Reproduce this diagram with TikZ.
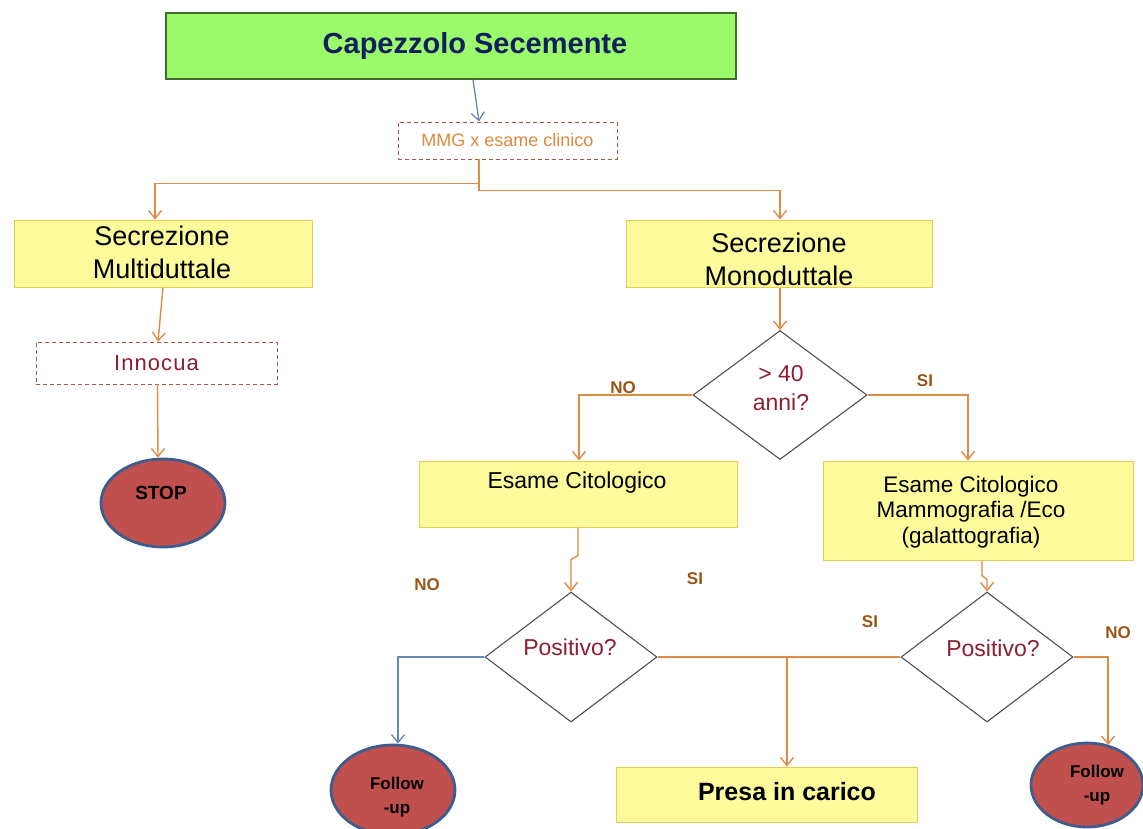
\documentclass[tikz,border=0pt]{standalone}
\usepackage{fontspec}
\setmainfont{Liberation Sans}
\usetikzlibrary{shapes.geometric,arrows.meta,calc}

\definecolor{boxyellow}{HTML}{FDFA9C}
\definecolor{boxyellowline}{HTML}{EBCB55}
\definecolor{titlegreen}{HTML}{9CF96A}
\definecolor{titleline}{HTML}{3F6D2B}
\definecolor{titletext}{HTML}{10205E}
\definecolor{flow}{HTML}{DF8B45}
\definecolor{flowblue}{HTML}{6688B5}
\definecolor{dashline}{HTML}{A8574F}
\definecolor{mmgtext}{HTML}{E0893E}
\definecolor{question}{HTML}{8E1E32}
\definecolor{endfill}{HTML}{C0504D}
\definecolor{endline}{HTML}{3C5D8E}
\definecolor{answer}{HTML}{995515}
\definecolor{diamondline}{HTML}{505050}

\tikzset{
  titlebox/.style={draw=titleline, fill=titlegreen, line width=1.2pt, inner sep=0pt,
    text=titletext, font=\fontsize{29}{34}\selectfont\bfseries},
  ybox/.style={draw=boxyellowline, fill=boxyellow, line width=1pt, inner sep=0pt},
  dbox/.style={draw=dashline, dash pattern=on 4pt off 3pt, line width=0.9pt, fill=white, inner sep=0pt},
  decision/.style={diamond, draw=diamondline, line width=1.1pt, fill=white, inner sep=0pt},
  endpoint/.style={ellipse, fill=endfill, draw=endline, line width=2.8pt, inner sep=0pt},
  flowarrow/.style={draw=flow, line width=1.4pt, -{Straight Barb[length=8pt,width=13pt]}},
  blueflow/.style={draw=flowblue, line width=1.3pt, -{Straight Barb[length=8pt,width=13pt]}},
  flowline/.style={draw=flow, line width=1.4pt},
  boxtext/.style={align=center, text=black, font=\fontsize{27}{33}\selectfont},
  smalltext/.style={align=center, text=black, font=\fontsize{22.5}{25.5}\selectfont},
  qtext/.style={align=center, text=question, font=\fontsize{23}{29}\selectfont},
  endtext/.style={align=center, text=black, font=\fontsize{17}{24}\selectfont\bfseries},
  answerlabel/.style={text=answer, font=\fontsize{17}{20}\selectfont\bfseries},
}

\begin{document}
\begin{tikzpicture}[x=1pt, y=-1pt]
\useasboundingbox (0,0) rectangle (1143,828);

% title
\node[titlebox, minimum width=570pt, minimum height=66pt] (title) at (451,46)
  {\hspace*{48pt}Capezzolo Secemente};

% clinical examination
\node[dbox, minimum width=219pt, minimum height=37pt, text=mmgtext,
  font=\fontsize{18}{22}\selectfont] (mmg) at (507.5,140.5) {MMG x esame clinico};

% left branch
\node[ybox, minimum width=298pt, minimum height=67pt] (multi) at (163,253.5) {};
\node[boxtext] (multitext) at (162,252) {Secrezione\\Multiduttale};
\node[dbox, minimum width=241pt, minimum height=42pt, text=question,
  font=\fontsize{22}{26}\selectfont\addfontfeature{LetterSpace=5}] (innocua) at (156.5,363) {Innocua};
\node[endpoint, minimum width=124pt, minimum height=88pt] (stop) at (163,503) {};
\node[endtext, font=\fontsize{19}{24}\selectfont\bfseries] (stoptext) at (161,493) {STOP};

% right branch
\node[ybox, minimum width=306pt, minimum height=67pt] (mono) at (779,253.5) {};
\node[boxtext] (monotext) at (779,259) {Secrezione\\Monoduttale};
\node[decision, minimum width=174pt, minimum height=129pt] (age) at (780,395) {};
\node[qtext] (agetext) at (781,388) {> 40\\anni?};

\node[ybox, minimum width=318pt, minimum height=66pt] (cito) at (578,494) {};
\node[smalltext, font=\fontsize{23}{27}\selectfont] (citotext) at (577,483) {Esame Citologico};
\node[ybox, minimum width=310pt, minimum height=99pt] (mammo) at (978,510.5) {};
\node[smalltext] (mammotext) at (971,512)
  {Esame Citologico\\Mammografia /Eco\\(galattografia)};

\node[decision, minimum width=172pt, minimum height=130pt] (posA) at (571,657) {};
\node[qtext] (posAtext) at (570,647) {Positivo?};
\node[decision, minimum width=172pt, minimum height=130pt] (posB) at (987,657) {};
\node[qtext] (posBtext) at (993,648) {Positivo?};

\node[endpoint, minimum width=124pt, minimum height=90pt] (followA) at (393,790) {};
\node[endtext] (followAtext) at (397,797) {Follow\\-up};
\node[endpoint, minimum width=112pt, minimum height=84pt] (followB) at (1087,785) {};
\node[endtext] (followBtext) at (1097,785) {Follow\\-up};

\node[ybox, minimum width=301pt, minimum height=55pt] (presa) at (766.5,794.5) {};
\node[text=black, font=\fontsize{25}{30}\selectfont\bfseries] (presatext) at (787,792) {Presa in carico};

% answer labels
\node[answerlabel] (ageNo) at (623,388) {NO};
\node[answerlabel] (ageSi) at (925,381) {SI};
\node[answerlabel] (posANo) at (427,585) {NO};
\node[answerlabel] (posASi) at (695,579) {SI};
\node[answerlabel] (posBSi) at (870,622) {SI};
\node[answerlabel] (posBNo) at (1118,633) {NO};

% connectors
\draw[blueflow] ([xshift=22pt]title.south) -- ([xshift=-28.5pt]mmg.north);
\draw[flowarrow] ([xshift=-28.5pt]mmg.south) -- ++(0,24) -| ([xshift=-8pt]multi.north);
\draw[flowarrow] ([xshift=-28.5pt]mmg.south) -- ++(0,31) -| ([xshift=1pt]mono.north);
\draw[flowarrow] (multi.south) -- ([xshift=1.5pt]innocua.north);
\draw[flowarrow] ([xshift=1pt]innocua.south) -- ([xshift=-5pt]stop.north);
\draw[flowarrow] (mono.south -| age.north) -- (age.north);
\draw[flowarrow] (age.west) -| ([xshift=1pt]cito.north);
\draw[flowarrow] (age.east) -| ([xshift=-10pt]mammo.north);
\draw[flowarrow] (cito.south) -- ++(0,28) -- ++(-7,4) -- (posA.north);
\draw[flowarrow] ([xshift=4pt]mammo.south) -- ++(0,15) -- ++(5,4) -- (posB.north);
\draw[blueflow] (posA.west) -| ([xshift=5pt]followA.north);
\draw[flowline] (posA.east) -- (posB.west);
\draw[flowarrow] (posA.east -| presatext) -- (presatext |- presa.north);
\draw[flowarrow] (posB.east) -| ([xshift=21pt,yshift=-3.5pt]followB.north);
\end{tikzpicture}
\end{document}
